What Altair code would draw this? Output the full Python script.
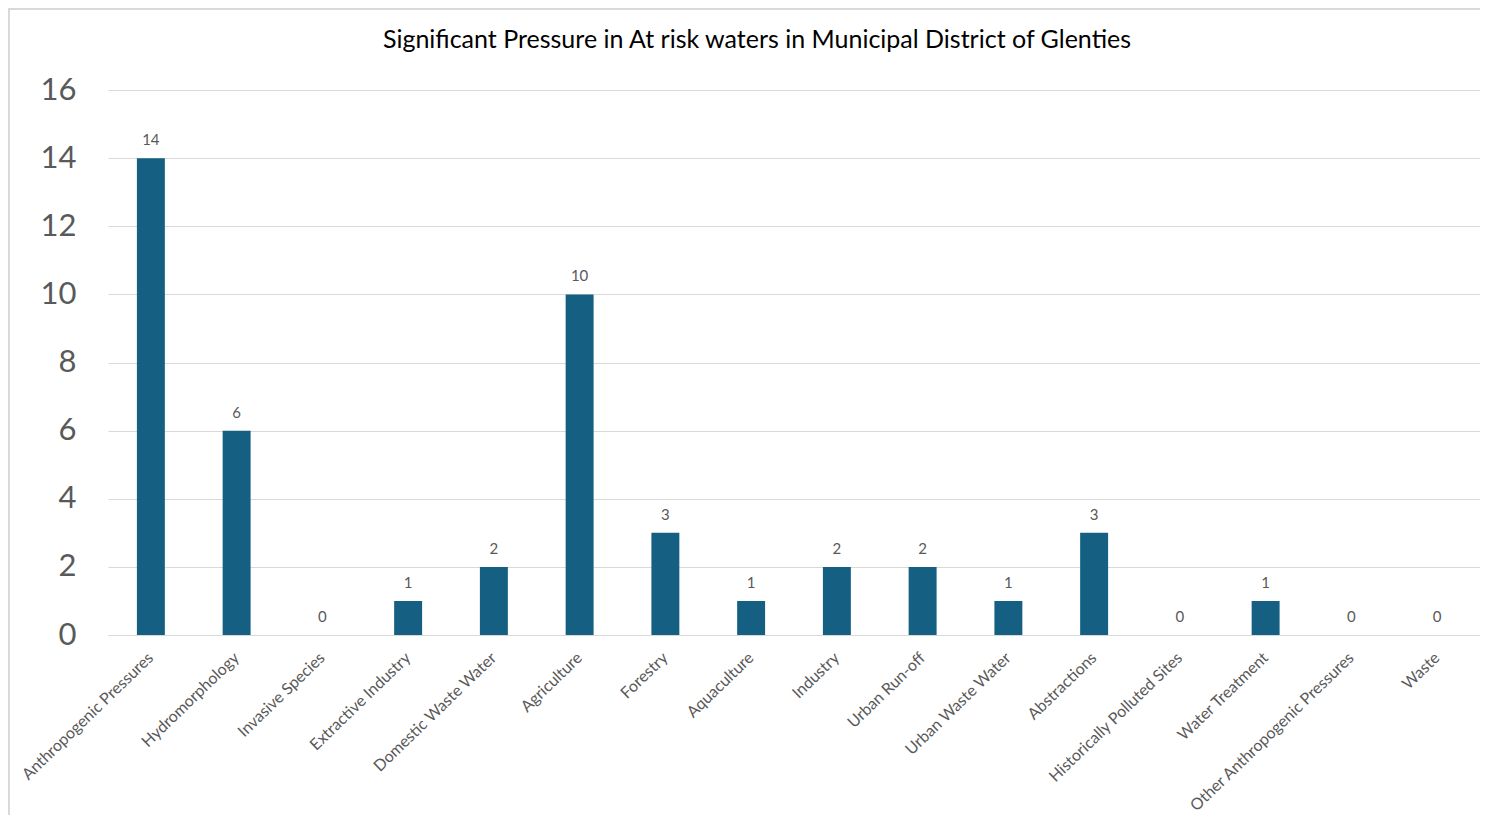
import altair as alt
import pandas as pd

categories = [
    "Anthropogenic Pressures", "Hydromorphology", "Invasive Species",
    "Extractive Industry", "Domestic Waste Water", "Agriculture", "Forestry",
    "Aquaculture", "Industry", "Urban Run-off", "Urban Waste Water",
    "Abstractions", "Historically Polluted Sites", "Water Treatment",
    "Other Anthropogenic Pressures", "Waste",
]
values = [14, 6, 0, 1, 2, 10, 3, 1, 2, 2, 1, 3, 0, 1, 0, 0]
y_ticks = [0, 2, 4, 6, 8, 10, 12, 14, 16]
title_text = "Significant Pressure in At risk waters in Municipal District of Glenties"

df = pd.DataFrame({"category": categories, "value": values})

FONT = "Lato"
GRAY = "#595959"

x_enc = alt.X(
    "category:N", sort=categories, title=None,
    scale=alt.Scale(paddingInner=0.674, paddingOuter=0.337),
    axis=alt.Axis(labelAngle=-44, labelAlign="right", labelBaseline="middle",
                  labelFontSize=16, labelColor=GRAY, labelFont=FONT,
                  labelPadding=20, ticks=False, domainColor="#d9d9d9",
                  labelOverlap=False, labelLimit=400),
)
y_enc = alt.Y(
    "value:Q", title=None,
    scale=alt.Scale(domain=[0, 16], nice=False),
    axis=alt.Axis(values=y_ticks, labelFontSize=31, labelColor=GRAY,
                  labelFont=FONT, labelPadding=32, ticks=False, domain=False,
                  gridColor="#d9d9d9", gridWidth=1.2),
)

base = alt.Chart(df)
one = base.transform_filter(alt.datum.category == categories[0])

frame = one.mark_rect(fill=None, stroke="#d9d9d9", strokeWidth=2, clip=False).encode(
    x=alt.value(-99), x2=alt.value(1395), y=alt.value(-81), y2=alt.value(760)
)

title = one.mark_text(text=title_text, font=FONT, fontSize=25, color="#000000",
                      align="center", baseline="middle").encode(
    x=alt.value(649), y=alt.value(-50)
)

bars = base.mark_bar(color="#156082").encode(x=x_enc, y=y_enc)
labels = base.mark_text(dy=-13, baseline="alphabetic", fontSize=15,
                        color=GRAY, font=FONT).encode(
    x=alt.X("category:N", sort=categories), y="value:Q", text="value:Q"
)

chart = alt.layer(frame, bars, labels, title).properties(
    width=1372, height=545,
    padding={"left": 100, "top": 82, "right": 0, "bottom": 180},
    autosize=alt.AutoSizeParams(type="none"),
).configure_view(stroke=None)

chart.save("out.html", embed_options={"renderer": "svg", "actions": False})
